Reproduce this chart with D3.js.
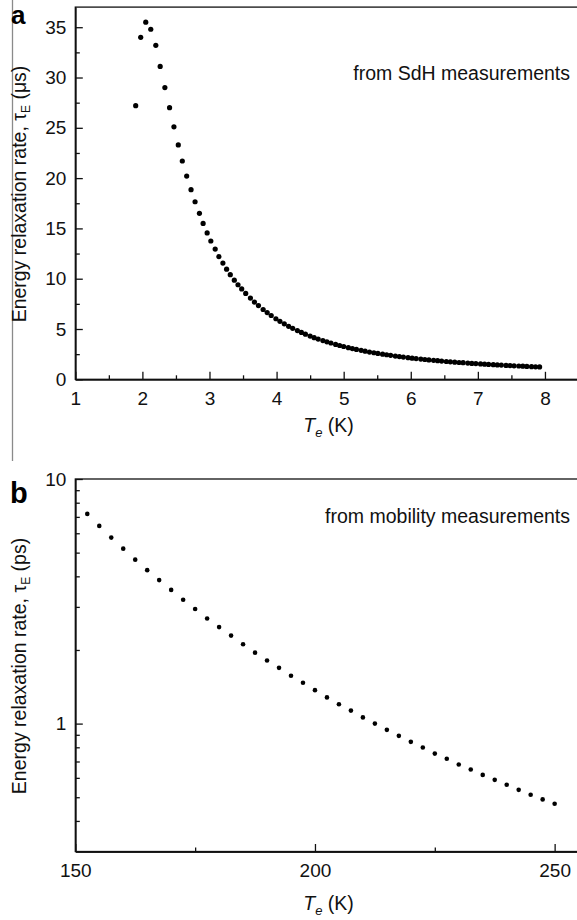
<!DOCTYPE html>
<html>
<head>
<meta charset="utf-8">
<script src="https://cdn.jsdelivr.net/npm/d3@7"></script>
<style>
  body { margin: 0; background: #fff; }
  text { font-family: "Liberation Sans", Arial, sans-serif; }
</style>
</head>
<body>
<script>
// panel a : tau_E (us) vs Te (K), from SdH
var tempA = [1.90, 1.975, 2.05, 2.125, 2.20, 2.265, 2.335, 2.405, 2.47, 2.535,
  2.595, 2.66, 2.725, 2.785, 2.85, 2.905, 2.965, 3.02, 3.085, 3.14,
  3.20, 3.255, 3.31, 3.37, 3.425, 3.48, 3.54, 3.61, 3.67, 3.73,
  3.80, 3.86, 3.92, 3.99, 4.05, 4.115, 4.18, 4.24, 4.31, 4.37,
  4.43, 4.50, 4.56, 4.62, 4.69, 4.75, 4.81, 4.88, 4.94, 5.00,
  5.07, 5.13, 5.19, 5.26, 5.32, 5.385, 5.45, 5.51, 5.58, 5.64,
  5.70, 5.77, 5.83, 5.89, 5.96, 6.02, 6.08, 6.15, 6.21, 6.27,
  6.34, 6.40, 6.46, 6.53, 6.59, 6.655, 6.72, 6.78, 6.85, 6.91,
  6.97, 7.04, 7.10, 7.16, 7.23, 7.29, 7.35, 7.42, 7.48, 7.54,
  7.61, 7.67, 7.73, 7.80, 7.86, 7.92];
var tauA = [27.2, 34.0, 35.5, 34.8, 33.2, 31.1, 29.0, 27.0, 25.1, 23.3,
  21.7, 20.2, 18.85, 17.65, 16.5, 15.5, 14.55, 13.75, 12.95, 12.2,
  11.55, 10.95, 10.4, 9.85, 9.4, 8.98, 8.54, 8.07, 7.68, 7.33,
  6.94, 6.63, 6.34, 6.02, 5.76, 5.51, 5.27, 5.07, 4.84, 4.66,
  4.49, 4.30, 4.14, 4.00, 3.85, 3.73, 3.61, 3.47, 3.36, 3.26,
  3.14, 3.05, 2.97, 2.88, 2.80, 2.71, 2.64, 2.57, 2.50, 2.44,
  2.38, 2.31, 2.26, 2.21, 2.15, 2.10, 2.06, 2.01, 1.97, 1.93,
  1.89, 1.85, 1.81, 1.77, 1.74, 1.70, 1.67, 1.65, 1.61, 1.58,
  1.56, 1.53, 1.50, 1.48, 1.45, 1.43, 1.41, 1.38, 1.36, 1.34,
  1.32, 1.30, 1.28, 1.26, 1.24, 1.23];

// panel b : tau_E (ps) vs Te (K), from mobility
var tempB = [152.5, 155, 157.5, 160, 162.5, 165, 167.5, 170, 172.5, 175,
  177.5, 180, 182.5, 185, 187.5, 190, 192.5, 195, 197.5, 200,
  202.5, 205, 207.5, 210, 212.5, 215, 217.5, 220, 222.5, 225,
  227.5, 230, 232.5, 235, 237.5, 240, 242.5, 245, 247.5, 250];
var tauB = [7.20, 6.43, 5.76, 5.19, 4.68, 4.24, 3.86, 3.52, 3.21, 2.94,
  2.69, 2.48, 2.29, 2.11, 1.95, 1.81, 1.69, 1.57, 1.47, 1.37,
  1.28, 1.20, 1.13, 1.06, 1.00, 0.943, 0.891, 0.842, 0.798, 0.754,
  0.718, 0.680, 0.649, 0.617, 0.589, 0.562, 0.536, 0.512, 0.490, 0.470];

var xTicksA = [1, 2, 3, 4, 5, 6, 7, 8];
var xMinorA = [1.5, 2.5, 3.5, 4.5, 5.5, 6.5, 7.5];
var yTicksA = [0, 5, 10, 15, 20, 25, 30, 35];
var yMinorA = [2.5, 7.5, 12.5, 17.5, 22.5, 27.5, 32.5];
var xTicksB = [150, 200, 250];
var xMinorB = [175, 225];
var yTicksB = [1, 10];
var yMinorB = [0.4, 0.5, 0.6, 0.7, 0.8, 0.9, 2, 3, 4, 5, 6, 7, 8, 9];

var width = 577,
    height = 920;

var svg = d3.select("body").append("svg")
  .attr("width", width)
  .attr("height", height);

// grey edge line left of panel a
svg.append("line")
  .attr("x1", 12.5).attr("x2", 12.5)
  .attr("y1", 0).attr("y2", 461)
  .attr("stroke", "#8a8a8a")
  .attr("stroke-width", 1.3);

function styleAxis(g) {
  g.selectAll("path, line").attr("stroke", "#111").attr("stroke-width", 1.3);
  g.selectAll("text").style("font-size", "19px").attr("fill", "#111");
}

function drawPanel(p) {
  var x = p.x, y = p.y;

  // frame
  svg.append("rect")
    .attr("x", x.range()[0]).attr("y", y.range()[1])
    .attr("width", x.range()[1] - x.range()[0])
    .attr("height", y.range()[0] - y.range()[1])
    .attr("fill", "none")
    .attr("stroke", "#111")
    .attr("stroke-width", 1.3);

  var bottom = y.range()[0], left = x.range()[0];

  svg.append("g")
    .attr("transform", "translate(0," + bottom + ")")
    .call(d3.axisBottom(x).tickValues(p.xMinor).tickFormat("").tickSize(-4).tickSizeOuter(0))
    .call(styleAxis);
  svg.append("g")
    .attr("transform", "translate(0," + bottom + ")")
    .call(d3.axisBottom(x).tickValues(p.xTicks).tickFormat(d3.format("d")).tickSize(-7.5).tickSizeOuter(0).tickPadding(12))
    .call(styleAxis);

  svg.append("g")
    .attr("transform", "translate(" + left + ",0)")
    .call(d3.axisLeft(y).tickValues(p.yMinor).tickFormat("").tickSize(-4.5).tickSizeOuter(0))
    .call(styleAxis);
  svg.append("g")
    .attr("transform", "translate(" + left + ",0)")
    .call(d3.axisLeft(y).tickValues(p.yTicks).tickFormat(d3.format("d")).tickSize(-7.5).tickSizeOuter(0).tickPadding(9))
    .call(styleAxis);

  // points
  svg.append("g").selectAll("circle")
    .data(p.tx)
    .enter().append("circle")
    .attr("cx", function(d) { return x(d); })
    .attr("cy", function(d, i) { return y(p.ty[i]); })
    .attr("r", p.r)
    .attr("fill", "#000");

  // y label
  var yl = svg.append("text")
    .attr("transform", "translate(26," + p.ylabelY + ") rotate(-90)")
    .attr("text-anchor", "middle")
    .style("font-size", "19.5px")
    .attr("fill", "#111");
  yl.append("tspan").text("Energy relaxation rate, \u03C4");
  yl.append("tspan").attr("dy", 4).style("font-size", "12px").text("E");
  yl.append("tspan").attr("dy", -4).text(" (" + p.unit + ")");

  // x label
  var xl = svg.append("text")
    .attr("x", 328.5).attr("y", p.xlabelY)
    .attr("text-anchor", "middle")
    .style("font-size", "19.5px")
    .attr("fill", "#111");
  xl.append("tspan").style("font-style", "italic").text("T");
  xl.append("tspan").attr("dy", 5).style("font-style", "italic").style("font-size", "13px").text("e");
  xl.append("tspan").attr("dy", -5).text(" (K)");

  // note
  svg.append("text")
    .attr("x", 570).attr("y", p.noteY)
    .attr("text-anchor", "end")
    .style("font-size", "19.5px")
    .attr("fill", "#111")
    .text(p.note);

  // panel letter
  svg.append("text")
    .attr("x", p.letterX).attr("y", p.letterY)
    .style("font-size", p.letterSize)
    .style("font-weight", "bold")
    .attr("fill", "#000")
    .text(p.letter);
}

drawPanel({
  x: d3.scaleLinear().domain([1, 8.5]).range([75.3, 578.5]),
  y: d3.scaleLinear().domain([0, 37]).range([379.3, 7.1]),
  tx: tempA, ty: tauA, r: 2.6,
  xTicks: xTicksA, xMinor: xMinorA, yTicks: yTicksA, yMinor: yMinorA,
  unit: "\u03BCs", ylabelY: 194, xlabelY: 432,
  note: "from SdH measurements", noteY: 80,
  letter: "a", letterX: 11, letterY: 24, letterSize: "26px"
});

drawPanel({
  x: d3.scaleLinear().domain([150, 255]).range([75.3, 578.6]),
  y: d3.scaleLog().domain([0.3, 10]).range([851.5, 479]),
  tx: tempB, ty: tauB, r: 2.3,
  xTicks: xTicksB, xMinor: xMinorB, yTicks: yTicksB, yMinor: yMinorB,
  unit: "ps", ylabelY: 666, xlabelY: 910,
  note: "from mobility measurements", noteY: 523,
  letter: "b", letterX: 10, letterY: 503, letterSize: "29px"
});
</script>
</body>
</html>
